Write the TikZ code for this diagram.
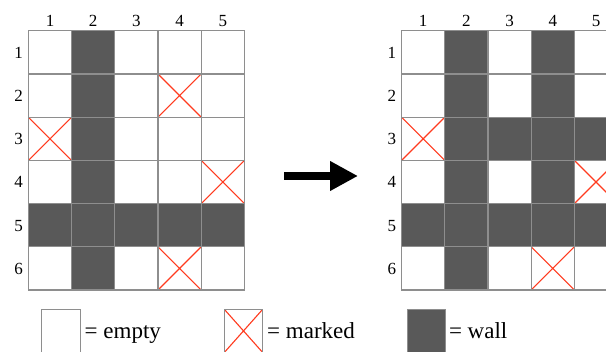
\documentclass[tikz,border=0pt]{standalone}
\usepackage{fontspec}
\setmainfont{Liberation Serif}
\newfontfamily\labelfont{Liberation Serif}
\usetikzlibrary{arrows.meta}

\definecolor{gridgray}{HTML}{8E8E8E}
\definecolor{wallgray}{HTML}{595959}
\definecolor{markred}{HTML}{FF3B1F}

\tikzset{
	opencell/.style={draw=gridgray, line width=1.3pt, fill=white, minimum width=43.2pt, minimum height=43.2pt, inner sep=0pt, outer sep=0pt},
	wallcell/.style={opencell, fill=wallgray},
	markcell/.style={opencell, path picture={
		\draw[markred, line width=1.1pt] (path picture bounding box.north west) -- (path picture bounding box.south east)
			(path picture bounding box.north east) -- (path picture bounding box.south west);}},
	idx/.style={font=\labelfont\fontsize{17}{17}\selectfont, anchor=base, inner sep=0pt},
	keytext/.style={font=\labelfont\fontsize{23}{23}\selectfont, anchor=base west, inner sep=0pt}
}

\begin{document}
\begin{tikzpicture}[x=1pt, y=-1pt]
	\clip (0,0) rectangle (606,352);
	% grid before
	\foreach \row [count=\r] in {{opencell,wallcell,opencell,opencell,opencell},
			{opencell,wallcell,opencell,markcell,opencell},
			{markcell,wallcell,opencell,opencell,opencell},
			{opencell,wallcell,opencell,opencell,markcell},
			{wallcell,wallcell,wallcell,wallcell,wallcell},
			{opencell,wallcell,opencell,markcell,opencell}}
		\foreach \kind [count=\c] in \row
			\node[\kind] (L-\r-\c) at ({28.4+43.2*(\c-0.5)}, {30.8+43.2*(\r-0.5)}) {};
	% grid after
	\foreach \row [count=\r] in {{opencell,wallcell,opencell,wallcell,opencell},
			{opencell,wallcell,opencell,wallcell,opencell},
			{markcell,wallcell,wallcell,wallcell,wallcell},
			{opencell,wallcell,opencell,wallcell,markcell},
			{wallcell,wallcell,wallcell,wallcell,wallcell},
			{opencell,wallcell,opencell,markcell,opencell}}
		\foreach \kind [count=\c] in \row
			\node[\kind] (R-\r-\c) at ({401.6+43.2*(\c-0.5)}, {30.8+43.2*(\r-0.5)}) {};
	% indices
	\foreach \c in {1,...,5} {
		\node[idx] (Lcol-\c) at ({28.4+43.2*(\c-0.5)}, 26.5) {\c};
		\node[idx] (Rcol-\c) at ({401.6+43.2*(\c-0.5)}, 26.5) {\c};
	}
	\foreach \r in {1,...,6} {
		\node[idx] (Lrow-\r) at (18.5, {30.8+43.2*(\r-0.5)+6}) {\r};
		\node[idx] (Rrow-\r) at (391.8, {30.8+43.2*(\r-0.5)+6}) {\r};
	}
	% arrow
	\coordinate (tail) at (284,176);
	\coordinate (tip) at (358,176);
	\draw[line width=7.7pt, -{Triangle[length=28pt, width=28pt]}] (tail) -- (tip);
	% key
	\node[opencell, minimum width=38.4pt] (keyopen) at (61,330.9) {};
	\node[keytext] (keyopentext) at (84.5,338.5) {= empty};
	\node[markcell, minimum width=38.4pt] (keymark) at (243.5,330.9) {};
	\node[keytext] (keymarktext) at (267,338.5) {= marked};
	\node[wallcell, minimum width=38.4pt] (keywall) at (426.5,330.9) {};
	\node[keytext] (keywalltext) at (448.8,338.5) {= wall};
\end{tikzpicture}
\end{document}
